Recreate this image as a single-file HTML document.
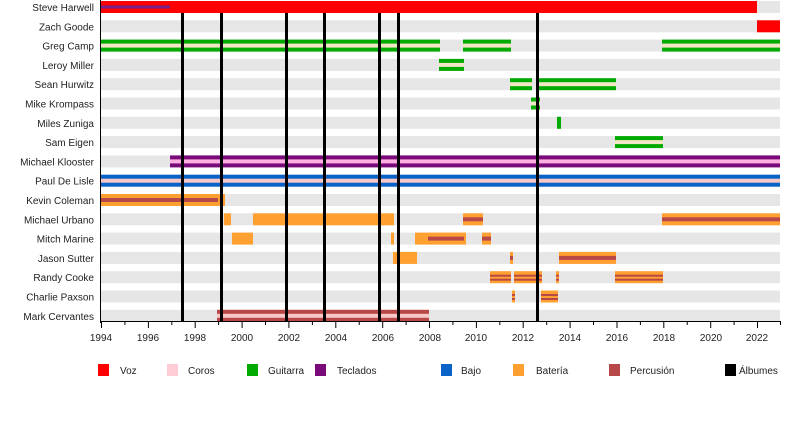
<!DOCTYPE html>
<html><head><meta charset="utf-8"><style>
html,body{margin:0;padding:0;background:#fff;width:800px;height:440px;overflow:hidden}
svg{display:block;font-family:"Liberation Sans",sans-serif}
</style></head><body>
<svg width="800" height="440" xmlns="http://www.w3.org/2000/svg">
<g fill="#e6e6e6">
<rect x="101" y="1" width="679" height="12"/><rect x="101" y="20.3" width="679" height="12"/>
<rect x="101" y="39.6" width="679" height="12"/><rect x="101" y="58.9" width="679" height="12"/>
<rect x="101" y="78.2" width="679" height="12"/><rect x="101" y="97.5" width="679" height="12"/>
<rect x="101" y="116.8" width="679" height="12"/><rect x="101" y="136.1" width="679" height="12"/>
<rect x="101" y="155.4" width="679" height="12"/><rect x="101" y="174.7" width="679" height="12"/>
<rect x="101" y="194" width="679" height="12"/><rect x="101" y="213.3" width="679" height="12"/>
<rect x="101" y="232.6" width="679" height="12"/><rect x="101" y="251.9" width="679" height="12"/>
<rect x="101" y="271.2" width="679" height="12"/><rect x="101" y="290.5" width="679" height="12"/>
<rect x="101" y="309.8" width="679" height="12"/>
</g>
<g font-size="10" text-anchor="end" fill="#222">
<text x="94" y="11">Steve Harwell</text><text x="94" y="30.3">Zach Goode</text>
<text x="94" y="49.6">Greg Camp</text><text x="94" y="68.9">Leroy Miller</text>
<text x="94" y="88.2">Sean Hurwitz</text><text x="94" y="107.5">Mike Krompass</text>
<text x="94" y="126.8">Miles Zuniga</text><text x="94" y="146.1">Sam Eigen</text>
<text x="94" y="165.4">Michael Klooster</text><text x="94" y="184.7">Paul De Lisle</text>
<text x="94" y="204">Kevin Coleman</text><text x="94" y="223.3">Michael Urbano</text>
<text x="94" y="242.6">Mitch Marine</text><text x="94" y="261.9">Jason Sutter</text>
<text x="94" y="281.2">Randy Cooke</text><text x="94" y="300.5">Charlie Paxson</text>
<text x="94" y="319.8">Mark Cervantes</text>
</g>
<!-- Steve -->
<rect x="101" y="1" width="656" height="12" fill="#ff0000"/>
<rect x="101" y="5.5" width="69" height="3" fill="#7a1f8a"/>
<rect x="757" y="20.3" width="23" height="12" fill="#ff0000"/>
<!-- guitar style -->
<g>
<rect x="101" y="39.6" width="339" height="12" fill="#00aa00"/><rect x="101" y="43.6" width="339" height="4" fill="#f2e6c6"/>
<rect x="463" y="39.6" width="48" height="12" fill="#00aa00"/><rect x="463" y="43.6" width="48" height="4" fill="#f2e6c6"/>
<rect x="662" y="39.6" width="118" height="12" fill="#00aa00"/><rect x="662" y="43.6" width="118" height="4" fill="#f2e6c6"/>
<rect x="439" y="58.9" width="25" height="12" fill="#00aa00"/><rect x="439" y="62.9" width="25" height="4" fill="#f2e6c6"/>
<rect x="510" y="78.2" width="22" height="12" fill="#00aa00"/><rect x="510" y="82.2" width="22" height="4" fill="#f2e6c6"/>
<rect x="539" y="78.2" width="77" height="12" fill="#00aa00"/><rect x="539" y="82.2" width="77" height="4" fill="#f2e6c6"/>
<rect x="531" y="97.5" width="9" height="12" fill="#00aa00"/><rect x="531" y="101.5" width="9" height="4" fill="#f2e6c6"/>
<rect x="557" y="116.8" width="4" height="12" fill="#00aa00"/>
<rect x="615" y="136.1" width="48" height="12" fill="#00aa00"/><rect x="615" y="140.1" width="48" height="4" fill="#f2e6c6"/>
</g>
<rect x="170" y="155.4" width="610" height="12" fill="#7a0a7a"/><rect x="170" y="159.4" width="610" height="4" fill="#ffb0e0"/>
<rect x="101" y="174.7" width="679" height="12" fill="#0a64c8"/><rect x="101" y="178.7" width="679" height="4" fill="#f7c8c8"/>
<!-- drums -->
<g fill="#ffa030">
<rect x="101" y="194" width="124" height="12"/>
<rect x="224" y="213.3" width="7" height="12"/><rect x="253" y="213.3" width="141" height="12"/>
<rect x="463" y="213.3" width="20" height="12"/><rect x="662" y="213.3" width="118" height="12"/>
<rect x="232" y="232.6" width="21" height="12"/><rect x="391" y="232.6" width="3" height="12"/>
<rect x="415" y="232.6" width="51" height="12"/><rect x="482" y="232.6" width="9" height="12"/>
<rect x="393" y="251.9" width="24" height="12"/><rect x="510" y="251.9" width="3" height="12"/>
<rect x="559" y="251.9" width="57" height="12"/>
<rect x="490" y="271.2" width="21" height="12"/><rect x="514" y="271.2" width="28" height="12"/>
<rect x="556" y="271.2" width="3" height="12"/><rect x="615" y="271.2" width="48" height="12"/>
<rect x="512" y="290.5" width="3" height="12"/><rect x="541" y="290.5" width="17" height="12"/>
</g>
<g fill="#b84848">
<rect x="101" y="198" width="117" height="4"/>
<rect x="463" y="217.3" width="20" height="4"/><rect x="662" y="217.3" width="118" height="4"/>
<rect x="428" y="236.6" width="36" height="4"/><rect x="482" y="236.6" width="9" height="4"/>
<rect x="510" y="255.9" width="3" height="4"/><rect x="559" y="255.9" width="57" height="4"/>
<rect x="490" y="274.7" width="21" height="2"/><rect x="490" y="278.7" width="21" height="2"/>
<rect x="514" y="274.7" width="28" height="2"/><rect x="514" y="278.7" width="28" height="2"/>
<rect x="556" y="274.7" width="3" height="2"/><rect x="556" y="278.7" width="3" height="2"/>
<rect x="615" y="274.7" width="48" height="2"/><rect x="615" y="278.7" width="48" height="2"/>
<rect x="512" y="294" width="3" height="2"/><rect x="512" y="298" width="3" height="2"/>
<rect x="541" y="294" width="17" height="2"/><rect x="541" y="298" width="17" height="2"/>
<rect x="217" y="309.8" width="212" height="12"/>
</g>
<rect x="217" y="313.8" width="212" height="4" fill="#f7c8c8"/>
<!-- albums -->
<g fill="#000">
<rect x="181" y="13" width="3" height="309"/><rect x="220" y="13" width="3" height="309"/>
<rect x="285" y="13" width="3" height="309"/><rect x="323" y="13" width="3" height="309"/>
<rect x="378" y="13" width="3" height="309"/><rect x="397" y="13" width="3" height="309"/>
<rect x="536" y="13" width="3" height="309"/>
</g>
<!-- axes -->
<rect x="100" y="0" width="1" height="323" fill="#000"/>
<rect x="100" y="321" width="681" height="1" fill="#000"/>
<g stroke="#000" stroke-width="1">
<path d="M101.5 322v6M124.9 322v3M148.4 322v6M171.8 322v3M195.2 322v6M218.6 322v3M242.1 322v6M265.5 322v3M288.9 322v6M312.4 322v3M335.8 322v6M359.2 322v3M382.7 322v6M406.1 322v3M429.5 322v6M452.9 322v3M476.4 322v6M499.8 322v3M523.2 322v6M546.7 322v3M570.1 322v6M593.5 322v3M617 322v6M640.4 322v3M663.8 322v6M687.2 322v3M710.7 322v6M734.1 322v3M757.5 322v6M780.5 322v3"/>
</g>
<g font-size="10" text-anchor="middle" fill="#222">
<text x="101" y="341">1994</text><text x="148" y="341">1996</text><text x="195" y="341">1998</text>
<text x="242" y="341">2000</text><text x="289" y="341">2002</text><text x="336" y="341">2004</text>
<text x="383" y="341">2006</text><text x="430" y="341">2008</text><text x="476" y="341">2010</text>
<text x="523" y="341">2012</text><text x="570" y="341">2014</text><text x="617" y="341">2016</text>
<text x="664" y="341">2018</text><text x="711" y="341">2020</text><text x="757" y="341">2022</text>
</g>
<!-- legend -->
<rect x="98" y="364" width="11" height="12" fill="#ff0000"/>
<rect x="167" y="364" width="11" height="12" fill="#ffccd5"/>
<rect x="247" y="364" width="11" height="12" fill="#00aa00"/>
<rect x="315" y="364" width="11" height="12" fill="#7a0a7a"/>
<rect x="441" y="364" width="11" height="12" fill="#0a64c8"/>
<rect x="513" y="364" width="11" height="12" fill="#ffa030"/>
<rect x="609" y="364" width="11" height="12" fill="#b84848"/>
<rect x="725" y="364" width="11" height="12" fill="#000"/>
<g font-size="10" fill="#222">
<text x="120" y="374">Voz</text><text x="188" y="374">Coros</text><text x="268" y="374">Guitarra</text>
<text x="337" y="374">Teclados</text><text x="461" y="374">Bajo</text><text x="536" y="374">Batería</text>
<text x="630" y="374">Percusión</text><text x="739" y="374">Álbumes</text>
</g>
</svg>
</body></html>
